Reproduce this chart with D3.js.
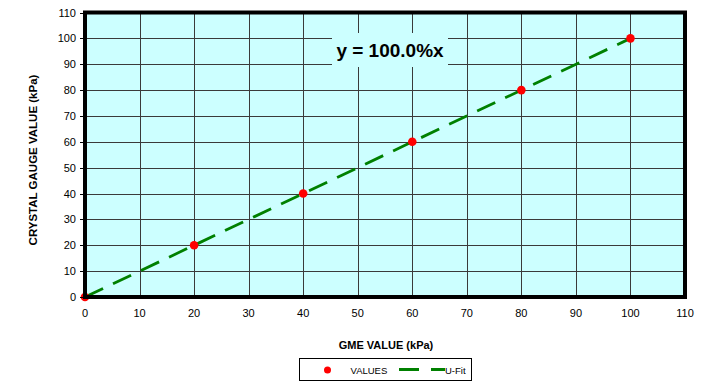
<html>
<head>
    <script src = "https://d3js.org/d3.v7.min.js"></script>
</head>
<body style = "margin:0; background:#fff;">
    <script>

        // data
        var gmeValues = [0, 20, 40, 60, 80, 100];
        var crystalValues = [0, 20, 40, 60, 80, 100];
        var fitSlope = 1.0;
        var fitRange = [0, 100];
        var xTicks = [0, 10, 20, 30, 40, 50, 60, 70, 80, 90, 100, 110];
        var yTicks = [0, 10, 20, 30, 40, 50, 60, 70, 80, 90, 100, 110];

        var font = "'Liberation Sans', Arial, sans-serif";

        var svg = d3.select("body")
            .append("svg")
            .attr("width", 715)
            .attr("height", 384)
            .style("display", "block");

        var x = d3.scaleLinear().domain([0, 110]).range([85, 685]);
        var y = d3.scaleLinear().domain([0, 110]).range([297, 12.5]);

        // plot background
        svg.append("rect")
            .attr("x", x(0))
            .attr("y", y(110))
            .attr("width", x(110) - x(0))
            .attr("height", y(0) - y(110))
            .attr("fill", "#ccffff");

        //grid
        svg.append("g")
            .selectAll("line")
            .data(xTicks.slice(1, -1))
            .enter()
            .append("line")
            .attr("x1", function (d) {return Math.round(x(d)) + 0.5;})
            .attr("x2", function (d) {return Math.round(x(d)) + 0.5;})
            .attr("y1", y(0))
            .attr("y2", y(110))
            .attr("stroke", "#3a3a3a")
            .attr("stroke-width", 1);
        svg.append("g")
            .selectAll("line")
            .data(yTicks.slice(1, -1))
            .enter()
            .append("line")
            .attr("y1", function (d) {return Math.round(y(d)) + 0.5;})
            .attr("y2", function (d) {return Math.round(y(d)) + 0.5;})
            .attr("x1", x(0))
            .attr("x2", x(110))
            .attr("stroke", "#3a3a3a")
            .attr("stroke-width", 1);

        // equation label box hides the grid behind it
        svg.append("rect")
            .attr("x", 332)
            .attr("y", 33)
            .attr("width", 116)
            .attr("height", 34)
            .attr("fill", "#ccffff");
        svg.append("text")
            .attr("x", 390)
            .attr("y", 57)
            .attr("text-anchor", "middle")
            .attr("font-family", font)
            .attr("font-weight", "bold")
            .attr("font-size", 19)
            .attr("fill", "#000")
            .text("y = " + (fitSlope * 100).toFixed(1) + "%x");

        // fit line
        svg.append("line")
            .attr("x1", x(fitRange[0]))
            .attr("y1", y(fitSlope * fitRange[0]))
            .attr("x2", x(fitRange[1]))
            .attr("y2", y(fitSlope * fitRange[1]))
            .attr("stroke", "#008000")
            .attr("stroke-width", 2.8)
            .attr("stroke-dasharray", "20,11");

        // points
        svg.append("g")
            .selectAll("circle")
            .data(gmeValues)
            .enter()
            .append("circle")
            .attr("cx", function (d) {return x(d);})
            .attr("cy", function (d, i) {return y(crystalValues[i]);})
            .attr("r", 4.3)
            .attr("fill", "#ff0000");

        // thick frame
        svg.append("rect")
            .attr("x", x(0))
            .attr("y", y(110))
            .attr("width", x(110) - x(0))
            .attr("height", y(0) - y(110))
            .attr("fill", "none")
            .attr("stroke", "#000")
            .attr("stroke-width", 4);

        // y axis ticks + labels
        var yAxis = svg.append("g");
        yAxis.selectAll("line")
            .data(yTicks)
            .enter()
            .append("line")
            .attr("x1", 80)
            .attr("x2", 85)
            .attr("y1", function (d) {return Math.round(y(d)) + 0.5;})
            .attr("y2", function (d) {return Math.round(y(d)) + 0.5;})
            .attr("stroke", "#000");
        yAxis.selectAll("text")
            .data(yTicks)
            .enter()
            .append("text")
            .attr("x", 76)
            .attr("y", function (d) {return y(d) + 4;})
            .attr("text-anchor", "end")
            .attr("font-family", font)
            .attr("font-size", 11)
            .text(function (d) {return d;});

        // x axis labels
        svg.append("g")
            .selectAll("text")
            .data(xTicks)
            .enter()
            .append("text")
            .attr("x", function (d) {return x(d);})
            .attr("y", 317)
            .attr("text-anchor", "middle")
            .attr("font-family", font)
            .attr("font-size", 11)
            .text(function (d) {return d;});

        // axis titles
        svg.append("text")
            .attr("x", 386)
            .attr("y", 349)
            .attr("text-anchor", "middle")
            .attr("font-family", font)
            .attr("font-weight", "bold")
            .attr("font-size", 11)
            .text("GME VALUE (kPa)");
        svg.append("text")
            .attr("transform", "translate(37,160) rotate(-90)")
            .attr("text-anchor", "middle")
            .attr("font-family", font)
            .attr("font-weight", "bold")
            .attr("font-size", 11.5)
            .text("CRYSTAL GAUGE VALUE (kPa)");

        // legend
        var legend = svg.append("g");
        legend.append("rect")
            .attr("x", 299.5)
            .attr("y", 358.5)
            .attr("width", 172)
            .attr("height", 22)
            .attr("fill", "#fff")
            .attr("stroke", "#000");
        legend.append("circle")
            .attr("cx", 327.5)
            .attr("cy", 370)
            .attr("r", 3.5)
            .attr("fill", "#ff0000");
        legend.append("text")
            .attr("x", 350.5)
            .attr("y", 373.5)
            .attr("font-family", font)
            .attr("font-size", 9.5)
            .text("VALUES");
        legend.append("line")
            .attr("x1", 399)
            .attr("x2", 445)
            .attr("y1", 369.5)
            .attr("y2", 369.5)
            .attr("stroke", "#008000")
            .attr("stroke-width", 2.8)
            .attr("stroke-dasharray", "20,12");
        legend.append("text")
            .attr("x", 445)
            .attr("y", 373.5)
            .attr("font-family", font)
            .attr("font-size", 9.5)
            .text("U-Fit");

    </script>
</body>
</html>
